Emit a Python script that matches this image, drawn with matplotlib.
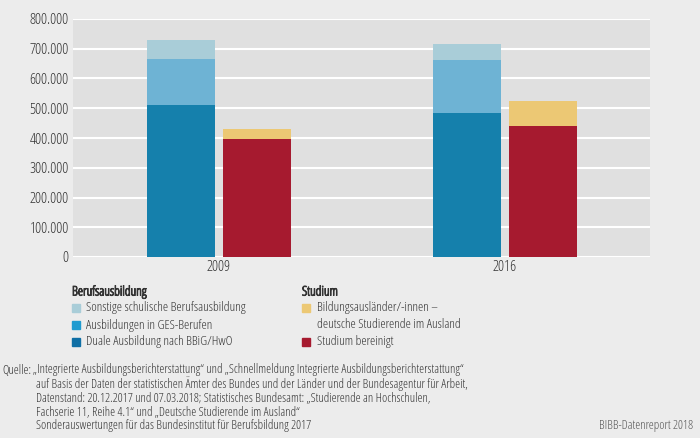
import numpy as np
import matplotlib
matplotlib.use('Agg')
import matplotlib.pyplot as plt
import matplotlib.patheffects as pe
from matplotlib.patches import Rectangle
from matplotlib.ticker import FuncFormatter

plt.rcParams['font.family'] = ['Open Sans', 'DejaVu Sans']
plt.rcParams['font.stretch'] = 'condensed'

# Daten
jahre = ['2009', '2016']
duale = [510000, 483000]
ges = [157000, 180000]
sonstige = [62000, 54000]
studium = [396000, 440000]
auslaender = [35000, 85000]

c_sonst = '#a9cdd8'
c_ges = '#6eb3d4'
c_dual = '#1580ac'
c_stud = '#a61a2f'
c_ausl = '#ecc874'
c_leg_ges = '#1e9bd0'
c_leg_dual = '#0f6fa5'
bg = '#ececec'
txt = '#333333'

fig = plt.figure(figsize=(7, 4.38), dpi=100, facecolor=bg)
ax = fig.add_axes([73/700, 1-257/438, 577/700, 238/438])
ax.set_facecolor('#e0e0e0')

x = np.arange(len(jahre))
w = 0.238
off = 0.133
b1 = np.array(duale)
b2 = b1 + np.array(ges)
ax.bar(x - off, duale, w, color=c_dual, zorder=3)
ax.bar(x - off, ges, w, bottom=b1, color=c_ges, zorder=3)
ax.bar(x - off, sonstige, w, bottom=b2, color=c_sonst, zorder=3)
ax.bar(x + off, studium, w, color=c_stud, zorder=3)
ax.bar(x + off, auslaender, w, bottom=studium, color=c_ausl, zorder=3)

ax.set_xlim(-0.51, 1.507)
ax.set_ylim(0, 800000)
ax.set_yticks(np.arange(0, 800001, 100000))
ax.yaxis.set_major_formatter(FuncFormatter(lambda v, p: '{:,.0f}'.format(v).replace(',', '.')))
ax.set_xticks(x)
ax.set_xticklabels(jahre)
ax.tick_params(length=0, labelsize=11, colors=txt)
ax.tick_params(axis='y', pad=3)
ax.tick_params(axis='x', pad=2)
ax.grid(axis='y', color='white', linewidth=1.5, zorder=1)
for s in ax.spines.values():
    s.set_visible(False)

# Legende
def fx(px):
    return px / 700

def fy(py):
    return 1 - py / 438

fs = 9.5
fett = [pe.withStroke(linewidth=0.7, foreground=txt)]  # schmale Schrift, kuenstlich fett
fig.text(fx(72), fy(292), 'Berufsausbildung', fontsize=9.5, color=txt, va='center', path_effects=fett)
fig.text(fx(302), fy(292), 'Studium', fontsize=9.5, color=txt, va='center', path_effects=fett)
links = [('Sonstige schulische Berufsausbildung', c_sonst, 308),
         ('Ausbildungen in GES-Berufen', c_leg_ges, 325),
         ('Duale Ausbildung nach BBiG/HwO', c_leg_dual, 342)]
for lab, col, py in links:
    fig.patches.append(Rectangle((fx(72), fy(py + 4)), fx(8), 8/438, color=col, transform=fig.transFigure))
    fig.text(fx(86), fy(py), lab, fontsize=fs, color=txt, va='center')
rechts = [('Bildungsausländer/-innen –', c_ausl, 308),
          ('deutsche Studierende im Ausland', None, 325),
          ('Studium bereinigt', c_stud, 342)]
for lab, col, py in rechts:
    if col is not None:
        fig.patches.append(Rectangle((fx(302), fy(py + 4)), fx(8), 8/438, color=col, transform=fig.transFigure))
    fig.text(fx(317), fy(py), lab, fontsize=fs, color=txt, va='center')

# Quelle
quelle = ['„Integrierte Ausbildungsberichterstattung“ und „Schnellmeldung Integrierte Ausbildungsberichterstattung“',
          'auf Basis der Daten der statistischen Ämter des Bundes und der Länder und der Bundesagentur für Arbeit,',
          'Datenstand: 20.12.2017 und 07.03.2018; Statistisches Bundesamt: „Studierende an Hochschulen,',
          'Fachserie 11, Reihe 4.1“ und „Deutsche Studierende im Ausland“',
          'Sonderauswertungen für das Bundesinstitut für Berufsbildung 2017']
qs = 9
fig.text(fx(2), fy(370), 'Quelle:', fontsize=qs, color=txt, va='center')
for i, z in enumerate(quelle):
    fig.text(fx(33 if i == 0 else 36), fy(370 + i * 14), z, fontsize=qs, color=txt, va='center')
fig.text(fx(693), fy(426), 'BIBB-Datenreport 2018', fontsize=qs, color='#555555', va='center', ha='right')

fig.savefig('out.png', dpi=100, facecolor=bg)
